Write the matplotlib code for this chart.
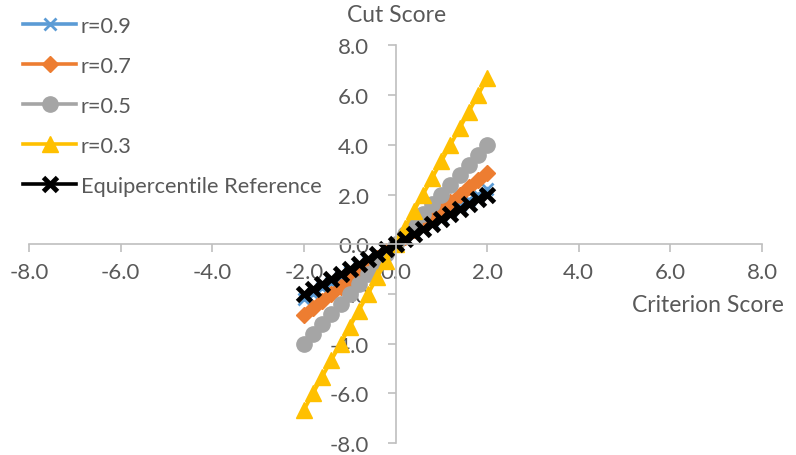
import matplotlib.pyplot as plt
from matplotlib.lines import Line2D

plt.rcParams['font.family'] = ['Lato', 'DejaVu Sans']

criterion = [-2.0, -1.8, -1.6, -1.4, -1.2, -1.0, -0.8, -0.6, -0.4, -0.2, 0.0,
             0.2, 0.4, 0.6, 0.8, 1.0, 1.2, 1.4, 1.6, 1.8, 2.0]

cut_r09 = [-2.22, -2.0, -1.78, -1.56, -1.33, -1.11, -0.89, -0.67, -0.44, -0.22, 0.0,
           0.22, 0.44, 0.67, 0.89, 1.11, 1.33, 1.56, 1.78, 2.0, 2.22]
cut_r07 = [-2.86, -2.57, -2.29, -2.0, -1.71, -1.43, -1.14, -0.86, -0.57, -0.29, 0.0,
           0.29, 0.57, 0.86, 1.14, 1.43, 1.71, 2.0, 2.29, 2.57, 2.86]
cut_r05 = [-4.0, -3.6, -3.2, -2.8, -2.4, -2.0, -1.6, -1.2, -0.8, -0.4, 0.0,
           0.4, 0.8, 1.2, 1.6, 2.0, 2.4, 2.8, 3.2, 3.6, 4.0]
cut_r03 = [-6.67, -6.0, -5.33, -4.67, -4.0, -3.33, -2.67, -2.0, -1.33, -0.67, 0.0,
           0.67, 1.33, 2.0, 2.67, 3.33, 4.0, 4.67, 5.33, 6.0, 6.67]
cut_equi = [-2.0, -1.8, -1.6, -1.4, -1.2, -1.0, -0.8, -0.6, -0.4, -0.2, 0.0,
            0.2, 0.4, 0.6, 0.8, 1.0, 1.2, 1.4, 1.6, 1.8, 2.0]

labels = ['r=0.9', 'r=0.7', 'r=0.5', 'r=0.3', 'Equipercentile Reference']
ticks = [-8.0, -6.0, -4.0, -2.0, 0.0, 2.0, 4.0, 6.0, 8.0]

text_col = '#595959'
axis_col = '#BFBFBF'

styles = [
    dict(color='#5B9BD5', marker='x', ms=9, mew=2),
    dict(color='#ED7D31', marker='D', ms=8),
    dict(color='#A5A5A5', marker='o', ms=11),
    dict(color='#FFC000', marker='^', ms=11),
    dict(color='black', marker='x', ms=10, mew=3.5),
]
series = [cut_r09, cut_r07, cut_r05, cut_r03, cut_equi]

W, H = 796, 456
fig = plt.figure(figsize=(W / 100, H / 100), dpi=100)
ax = fig.add_axes([29 / W, 1 - 444 / H, 733 / W, 397.6 / H])

for ys, st, lab in zip(series, styles, labels):
    ax.plot(criterion, ys, lw=2.6, label=lab, **st)

ax.set_xlim(-8, 8)
ax.set_ylim(-8, 8)

# axes crossing at the origin, excel style
for side in ['top', 'right']:
    ax.spines[side].set_visible(False)
ax.spines['left'].set_position(('data', 0))
ax.spines['bottom'].set_position(('data', 0))
for side in ['left', 'bottom']:
    ax.spines[side].set_color(axis_col)
    ax.spines[side].set_linewidth(1.2)

ax.set_xticks(ticks)
ax.set_yticks(ticks)
ax.set_xticklabels([f'{t:.1f}' for t in ticks])
ax.set_yticklabels([f'{t:.1f}' for t in ticks])
ax.tick_params(axis='both', colors=axis_col, labelcolor=text_col, labelsize=16,
               length=6, width=1.2, direction='out')
ax.tick_params(axis='x', pad=7)
ax.tick_params(axis='y', pad=13)
ax.patch.set_visible(False)

fig.text(397 / W, 1 - 15 / H, 'Cut Score', ha='center', va='center',
         fontsize=16.5, color=text_col)
fig.text(784 / W, 1 - 306 / H, 'Criterion Score', ha='right', va='center',
         fontsize=16.5, color=text_col)

# legend laid out by hand in figure pixels
for i, (st, lab) in enumerate(zip(styles, labels)):
    y = 1 - (25 + 40 * i) / H
    fig.add_artist(Line2D([23 / W, 76 / W], [y, y], transform=fig.transFigure,
                          color=st['color'], lw=2.6))
    fig.add_artist(Line2D([50 / W], [y], transform=fig.transFigure, lw=0, **st))
    fig.text(81 / W, y, lab, ha='left', va='center_baseline', fontsize=15.7,
             color=text_col)

fig.savefig('out.png', dpi=100)
